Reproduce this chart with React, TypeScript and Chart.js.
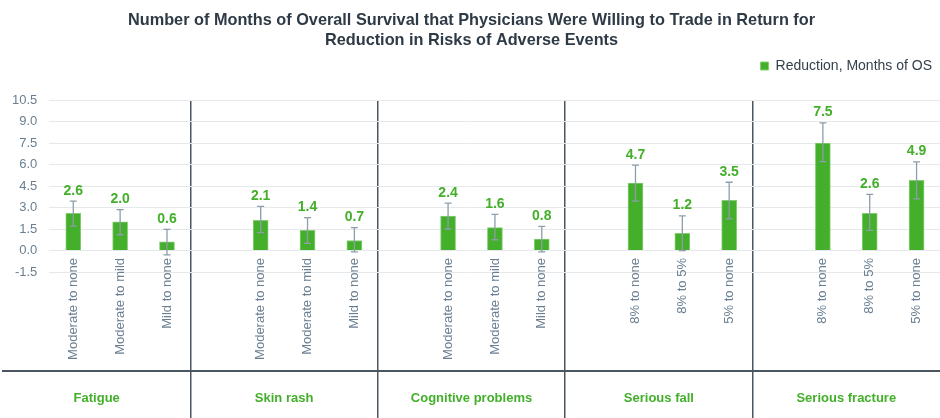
import React, { useEffect, useRef } from "react";
import { Chart, registerables } from "chart.js";

Chart.register(...registerables);

const groups = ["Fatigue", "Skin rash", "Cognitive problems", "Serious fall", "Serious fracture"];
const subLabels = [
  "", "Moderate to none", "Moderate to mild", "Mild to none",
  "", "Moderate to none", "Moderate to mild", "Mild to none",
  "", "Moderate to none", "Moderate to mild", "Mild to none",
  "", "8% to none", "8% to 5%", "5% to none",
  "", "8% to none", "8% to 5%", "5% to none",
];
const values: (number | null)[] = [
  null, 2.6, 2.0, 0.6,
  null, 2.1, 1.4, 0.7,
  null, 2.4, 1.6, 0.8,
  null, 4.7, 1.2, 3.5,
  null, 7.5, 2.6, 4.9,
];
const errLower: (number | null)[] = [
  null, 1.7, 1.1, -0.3,
  null, 1.25, 0.5, -0.1,
  null, 1.5, 0.75, -0.1,
  null, 3.45, 0.0, 2.2,
  null, 6.2, 1.4, 3.6,
];
const errUpper: (number | null)[] = [
  null, 3.45, 2.85, 1.47,
  null, 3.08, 2.3, 1.6,
  null, 3.3, 2.52, 1.68,
  null, 5.95, 2.42, 4.76,
  null, 8.9, 3.92, 6.18,
];
const yTicks = [-1.5, 0, 1.5, 3, 4.5, 6, 7.5, 9, 10.5];

const GREEN = "#43af2a";
const FONT = "'Liberation Sans', Arial, Helvetica, sans-serif";
const DARK = "#4b5661";
const CLEAR = "rgba(0,0,0,0)";

const legendSpacer = {
  id: "legendSpacer",
  beforeInit(chart: any) {
    const legend = chart.legend;
    if (!legend) return;
    const origFit = legend.fit;
    legend.fit = function () {
      origFit.bind(legend)();
      this.height = 49;
    };
  },
};

// let the rotated category labels run above the axis box (no clipping)
const noLabelClip = {
  id: "noLabelClip",
  afterLayout(chart: any) {
    const xs = chart.scales.x;
    if (xs) xs._computeLabelArea = () => undefined;
  },
};

const maskPlugin = {
  id: "gridMask",
  beforeDatasetsDraw(chart: any) {
    const { ctx, chartArea } = chart;
    ctx.save();
    ctx.fillStyle = "#ffffff";
    ctx.fillRect(chartArea.left, chartArea.top - 2, 46, chartArea.bottom - chartArea.top + 4);
    ctx.restore();
  },
};

const errorPlugin = {
  id: "errorBars",
  afterDatasetsDraw(chart: any) {
    const meta = chart.getDatasetMeta(0);
    const y = chart.scales.y;
    const ctx = chart.ctx;
    ctx.save();
    meta.data.forEach((bar: any, i: number) => {
      const v = values[i];
      const lo = errLower[i];
      const hi = errUpper[i];
      if (v == null || lo == null || hi == null) return;
      const x = bar.x;
      const top = y.getPixelForValue(hi);
      const bot = y.getPixelForValue(lo);
      ctx.strokeStyle = "#8d9dab";
      ctx.lineWidth = 1.3;
      ctx.beginPath();
      ctx.moveTo(x, top);
      ctx.lineTo(x, bot);
      ctx.moveTo(x - 3.5, top);
      ctx.lineTo(x + 3.5, top);
      ctx.moveTo(x - 3.5, bot);
      ctx.lineTo(x + 3.5, bot);
      ctx.stroke();
      ctx.fillStyle = GREEN;
      ctx.font = `bold 14px ${FONT}`;
      ctx.textAlign = "center";
      ctx.textBaseline = "alphabetic";
      ctx.fillText(v.toFixed(1), x, top - 6.5);
    });
    ctx.restore();
  },
};

export default function App() {
  const ref = useRef<HTMLCanvasElement | null>(null);
  useEffect(() => {
    document.body.style.margin = "0";
    if (!ref.current) return;
    const chart = new Chart(ref.current, {
      type: "bar",
      data: {
        labels: subLabels,
        datasets: [
          {
            label: "Reduction, Months of OS",
            data: values as any,
            backgroundColor: GREEN,
            borderColor: "#86cc74",
            borderWidth: 1,
            barThickness: 15,
          },
        ],
      },
      options: {
        animation: false,
        responsive: false,
        layout: { padding: { left: 3, right: 0, top: 0, bottom: 0 } },
        plugins: {
          title: {
            display: true,
            text: [
              "Number of Months of Overall Survival that Physicians Were Willing to Trade in Return for",
              "Reduction in Risks of Adverse Events",
            ],
            color: "#2e3a45",
            font: { family: FONT, size: 16.3, weight: "bold", lineHeight: 1.227 },
            padding: { top: 11, bottom: 0 },
          },
          legend: {
            display: true,
            position: "top",
            align: "end",
            labels: {
              color: "#333f4a",
              font: { family: FONT, size: 14 },
              boxWidth: 8,
              boxHeight: 8,
              padding: 8,
            },
          },
          tooltip: { enabled: false },
        },
        scales: {
          x: {
            type: "category",
            offset: true,
            grid: {
              offset: true,
              drawOnChartArea: true,
              drawTicks: true,
              tickLength: 99,
              color: (c: any) =>
                c.type === "tick" && c.index % 4 === 0 && c.index !== 0 ? DARK : CLEAR,
              lineWidth: 1.5,
            },
            border: { display: false },
            ticks: {
              autoSkip: false,
              minRotation: 90,
              maxRotation: 90,
              padding: -113,
              color: "#6a7f91",
              font: { family: FONT, size: 13 },
            },
            afterFit: (s: any) => {
              s.height = 99;
            },
          },
          x2: {
            type: "category",
            labels: groups,
            position: "bottom",
            offset: true,
            grid: {
              offset: true,
              drawOnChartArea: false,
              drawTicks: true,
              tickLength: 47,
              color: (c: any) => (c.type === "tick" && c.index !== 0 ? DARK : CLEAR),
              lineWidth: 1.5,
            },
            border: { display: true, color: DARK, width: 2 },
            ticks: {
              padding: -27,
              maxRotation: 0,
              minRotation: 0,
              color: GREEN,
              font: { family: FONT, size: 13, weight: "bold" },
            },
            afterFit: (s: any) => {
              s.height = 47;
            },
          },
          y: {
            min: yTicks[0],
            max: yTicks[yTicks.length - 1],
            afterBuildTicks: (s: any) => {
              s.ticks = yTicks.map((v) => ({ value: v }));
            },
            grid: { color: "#e6e9ec", lineWidth: 1, drawTicks: false, tickLength: 0 },
            border: { display: false },
            ticks: {
              mirror: true,
              crossAlign: "far",
              padding: 9,
              z: 1,
              color: "#6a7f91",
              font: { family: FONT, size: 13 },
              callback: (v: any) => Number(v).toFixed(1),
            },
            afterFit: (s: any) => {
              s.width = 0;
            },
          },
        },
      } as any,
      plugins: [legendSpacer, noLabelClip, maskPlugin, errorPlugin],
    });
    return () => chart.destroy();
  }, []);
  return (
    <div style={{ width: 940, height: 418 }}>
      <canvas ref={ref} width={940} height={418} style={{ display: "block" }} />
    </div>
  );
}
